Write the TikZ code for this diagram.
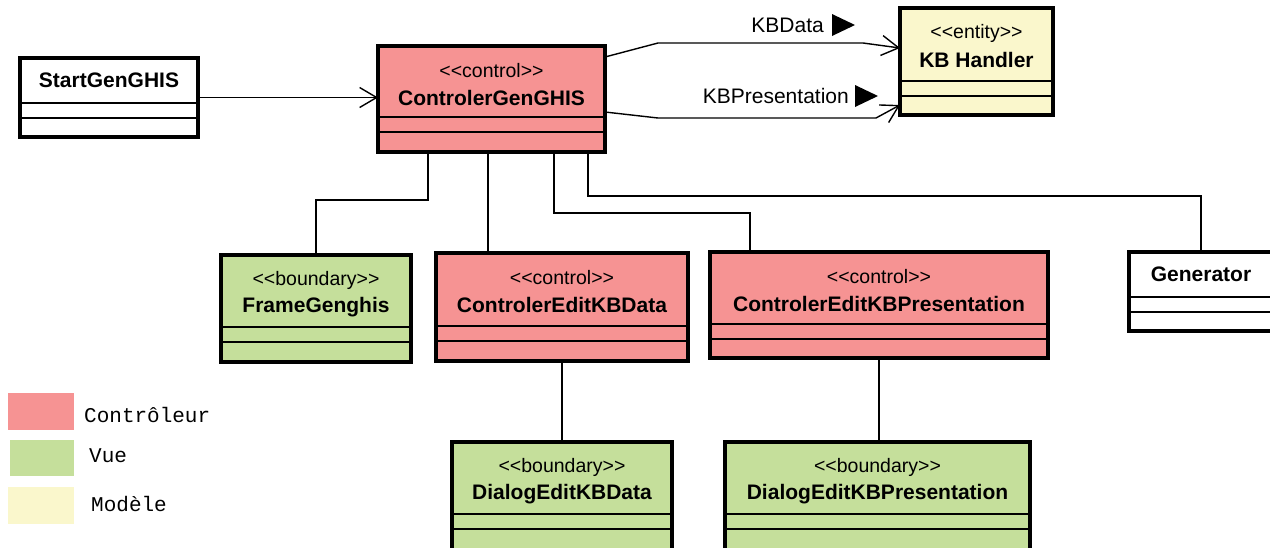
\documentclass[tikz,border=0pt]{standalone}
\usepackage{fontspec}
\setmainfont{Liberation Sans}
\newfontfamily\legendfont{Liberation Mono}
\usetikzlibrary{arrows.meta}
\definecolor{ctrlred}{RGB}{246,147,147}
\definecolor{vuegreen}{RGB}{197,223,155}
\definecolor{modyellow}{RGB}{250,247,204}
\newcommand\stopen{<\kern0pt<}
\newcommand\stclose{>\kern0pt>}
\tikzset{
  classbox/.style={draw=black, line width=3.6pt, inner sep=0pt, outer sep=0pt},
  sepline/.style={line width=1.8pt},
  stereo/.style={inner sep=0pt, font=\fontsize{19.5}{22}\selectfont},
  cname/.style={inner sep=0pt, font=\bfseries\fontsize{21}{24}\selectfont},
  conn/.style={line width=1.4pt},
  assoc/.style={conn, -{Straight Barb[length=17pt,width=20pt]}},
  elabel/.style={inner sep=0pt, anchor=east, font=\fontsize{21}{24}\selectfont},
  legbox/.style={inner sep=0pt, outer sep=0pt, draw=none, anchor=north west},
  legtext/.style={inner sep=0pt, anchor=west, font=\legendfont\fontsize{21}{24}\selectfont},
}
% id, x1, y1, x2, y2, first separator, fill, stereotype, name
\newcommand\umlclass[9]{%
  \node[classbox, fill=#7, minimum width={(#4-#2)*1pt}, minimum height={(#5-#3)*1pt}, anchor=north west] (#1) at (#2,#3) {};
  \draw[sepline] (#2,#6) -- (#4,#6) (#2,{#6+15}) -- (#4,{#6+15});
  \node[stereo] (#1-s) at ({(#2+#4)/2},{#3+25}) {\stopen#8\stclose};
  \node[cname] (#1-n) at ({(#2+#4)/2},{#3+52}) {#9};
}
% id, x1, y1, x2, y2, first separator, name
\newcommand\umlplain[7]{%
  \node[classbox, fill=white, minimum width={(#4-#2)*1pt}, minimum height={(#5-#3)*1pt}, anchor=north west] (#1) at (#2,#3) {};
  \draw[sepline] (#2,#6) -- (#4,#6) (#2,{#6+15}) -- (#4,{#6+15});
  \node[cname] (#1-n) at ({(#2+#4)/2},{(#3+#6)/2}) {#7};
}
\begin{document}
\begin{tikzpicture}[x=1pt,y=-1pt]
\useasboundingbox (0,0) rectangle (1270,547);
\fill[white] (0,0) rectangle (1270,547);
\clip (0,0) rectangle (1270,547);

% classes
\umlplain{start}{20}{58}{198}{137}{103}{StartGenGHIS}
\umlclass{ctrl}{378}{46}{605}{152}{117}{ctrlred}{control}{ControlerGenGHIS}
\umlclass{kbh}{900}{8}{1053}{115}{81}{modyellow}{entity}{KB Handler}
\umlclass{frame}{221}{255}{411}{362}{327}{vuegreen}{boundary}{FrameGenghis}
\umlclass{ced}{436}{253}{688}{361}{326}{ctrlred}{control}{ControlerEditKBData}
\umlclass{cep}{710}{252}{1048}{358}{324}{ctrlred}{control}{ControlerEditKBPresentation}
\umlplain{gen}{1129}{252}{1273}{331}{297}{Generator}
\umlclass{ded}{452}{442}{672}{565}{514}{vuegreen}{boundary}{DialogEditKBData}
\umlclass{dep}{725}{442}{1030}{565}{514}{vuegreen}{boundary}{DialogEditKBPresentation}

% connectors
\draw[assoc] (start.east) -- (ctrl.west |- start.east);
\draw[assoc] ([yshift=-11pt]ctrl.north east) -- (658,43) -- (863,43) -- ([yshift=-40pt]kbh.north west);
\draw[assoc] ([yshift=-66pt]ctrl.north east) -- (658,118) -- (876,118) -- ([yshift=-97pt]kbh.north west);
\draw[conn] ([xshift=-63.5pt]ctrl.south) -- ++(0,48) -| (frame.north);
\draw[conn] ([xshift=-3.5pt]ctrl.south) -- ([xshift=-3.5pt]ctrl.south |- ced.north);
\draw[conn] ([xshift=62.5pt]ctrl.south) -- ++(0,61) -| ([xshift=-129pt]cep.north);
\draw[conn] ([xshift=96.5pt]ctrl.south) -- ++(0,44) -| (gen.north);
\draw[conn] (ced.south) -- (ced.south |- ded.north);
\draw[conn] (cep.south) -- (cep.south |- dep.north);

% connector labels
\node[elabel] (lkbd) at (824,25) {KBData};
\fill (832,14) -- (855,25) -- (832,36) -- cycle;
\node[elabel] (lkbp) at (849,96) {KBPresentation};
\fill (855,85) -- (878,96) -- (855,107) -- cycle;

% legend
\node[legbox, fill=ctrlred, minimum width=66pt, minimum height=37pt] (lgc) at (8,393) {};
\node[legbox, fill=vuegreen, minimum width=64pt, minimum height=36pt] (lgv) at (10,440) {};
\node[legbox, fill=modyellow, minimum width=66pt, minimum height=37pt] (lgm) at (8,487) {};
\node[legtext] (ltc) at (84,415) {Contrôleur};
\node[legtext] (ltv) at (89,456) {Vue};
\node[legtext] (ltm) at (91,504) {Modèle};
\end{tikzpicture}
\end{document}
